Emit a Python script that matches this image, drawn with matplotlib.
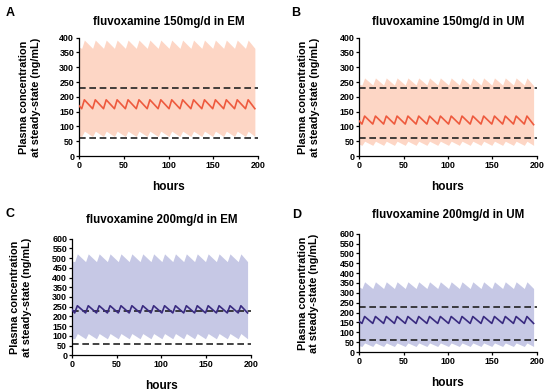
import matplotlib
matplotlib.use("Agg")
import matplotlib.pyplot as plt

plt.rcParams["font.family"] = ["Liberation Sans", "DejaVu Sans"]
plt.rcParams["font.weight"] = "bold"

# time of each trough / peak in the dosing cycles (hours)
TROUGH_H = [3.0, 15.2, 27.4, 39.6, 51.8, 64.0, 76.2, 88.4, 100.6, 112.8,
            125.0, 137.2, 149.4, 161.6, 173.8, 186.0]
PEAK_H = [6.0, 18.2, 30.4, 42.6, 54.8, 67.0, 79.2, 91.4, 103.6, 115.8,
          128.0, 140.2, 152.4, 164.6, 176.8, 189.0]
END_H = 196.5

# (start, trough, peak, end) in ng/mL
A_MED = (170, 160, 190, 160)
A_LO = (68, 66, 84, 66)
A_HI = (368, 364, 392, 364)
B_MED = (118, 108, 135, 106)
B_LO = (40, 36, 50, 36)
B_HI = (242, 240, 264, 238)
C_MED = (235, 218, 255, 218)
C_LO = (88, 85, 112, 85)
C_HI = (485, 482, 522, 482)
D_MED = (155, 145, 180, 145)
D_LO = (32, 28, 46, 28)
D_HI = (330, 322, 356, 322)

THRESH = [60, 230]
TITLES = ["fluvoxamine 150mg/d in EM", "fluvoxamine 150mg/d in UM",
          "fluvoxamine 200mg/d in EM", "fluvoxamine 200mg/d in UM"]
LETTERS = ["A", "B", "C", "D"]

RED, PEACH = "#ee5a3e", "#fdd6c5"
PURPLE, LAVENDER = "#392a80", "#c6c8e5"

W, H = 550, 392


def curve(vals):
    start, trough, peak, end = vals
    xs, ys = [0.0], [start]
    for t, p in zip(TROUGH_H, PEAK_H):
        xs += [t, p]
        ys += [trough, peak]
    xs.append(END_H)
    ys.append(end)
    return xs, ys


def rect(l, r, top, bot):
    return [l / W, 1 - bot / H, (r - l) / W, (bot - top) / H]


PANELS = [
    (rect(79, 258, 37.7, 156), A_MED, A_LO, A_HI, 400, RED, PEACH, (10, 13), (30, 97), 9),
    (rect(359.3, 536.7, 37.7, 156), B_MED, B_LO, B_HI, 400, RED, PEACH, (296, 13), (309, 97), 9),
    (rect(72, 250.7, 238.7, 355.3), C_MED, C_LO, C_HI, 600, PURPLE, LAVENDER, (10, 214), (21, 297), 11),
    (rect(359.3, 536.7, 233.7, 352), D_MED, D_LO, D_HI, 600, PURPLE, LAVENDER, (297, 215), (308.5, 293), 11),
]

fig = plt.figure(figsize=(W / 100, H / 100), dpi=100)
for i, (r, med, lo, hi, ymax, lc, fc, lpos, ypos, tpad) in enumerate(PANELS):
    ax = fig.add_axes(r)
    x, ylo = curve(lo)
    _, yhi = curve(hi)
    _, ym = curve(med)
    ax.fill_between(x, ylo, yhi, color=fc, lw=0, zorder=1)
    for v in THRESH:
        ax.axhline(v, color="#222222", ls=(0, (4, 2.2)), lw=1.2, zorder=2)
    ax.plot(x, ym, color=lc, lw=1.2, zorder=3)

    ax.set_xlim(0, 200)
    ax.set_ylim(0, ymax)
    ax.set_xticks([0, 50, 100, 150, 200])
    ax.set_yticks(range(0, ymax + 1, 50))
    ax.tick_params(labelsize=6.4, length=2.5, width=0.9, pad=1)
    for lab in ax.get_xticklabels() + ax.get_yticklabels():
        lab.set_fontweight("bold")
    for s in ("top", "right"):
        ax.spines[s].set_visible(False)
    for s in ("left", "bottom"):
        ax.spines[s].set_linewidth(0.9)
    ax.set_title(TITLES[i], fontsize=8.3, fontweight="bold", pad=tpad)
    ax.set_xlabel("hours", fontsize=8.5, fontweight="bold", labelpad=8)

    fig.text(lpos[0] / W, 1 - lpos[1] / H, LETTERS[i], fontsize=9,
             fontweight="bold", ha="center", va="center")
    fig.text(ypos[0] / W, 1 - ypos[1] / H,
             "Plasma concentration\nat steady-state (ng/mL)", rotation=90,
             fontsize=7.8, fontweight="bold", ha="center", va="center",
             linespacing=1.15)

fig.savefig("out.png", dpi=100)
